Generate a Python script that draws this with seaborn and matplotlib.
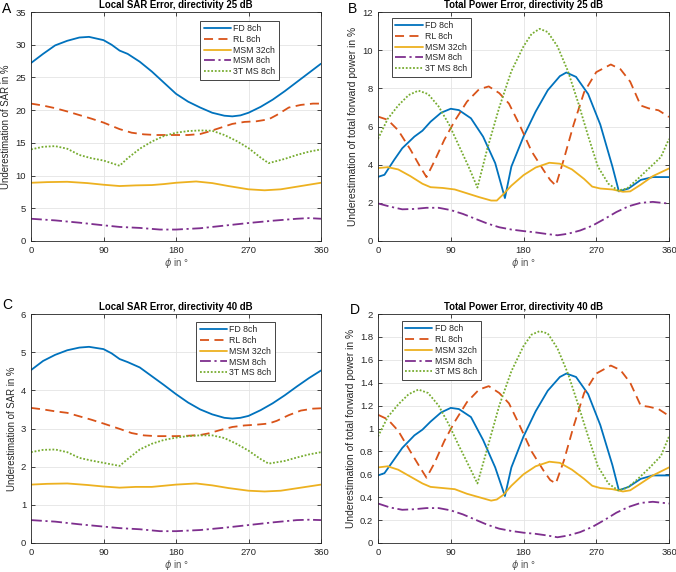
import matplotlib
matplotlib.use("Agg")
import matplotlib.pyplot as plt
import seaborn as sns
from matplotlib.ticker import FixedLocator, FormatStrFormatter

# ---------------- data ----------------
series_names = ["FD 8ch", "RL 8ch", "MSM 32ch", "MSM 8ch", "3T MS 8ch"]
x_ticks = [0, 90, 180, 270, 360]

# angles (deg) for local SAR panels (A, C)
sar_fd_x = [0, 15, 30, 45, 60, 72, 90, 100, 110, 120, 135, 150, 165, 180, 195, 210, 225, 240, 250, 260, 270, 285, 300, 315, 330, 345, 360]
sar_rl_x = [0, 15, 30, 45, 60, 75, 90, 110, 125, 140, 155, 170, 180, 195, 210, 220, 235, 250, 265, 280, 295, 305, 320, 335, 350, 360]
sar_m32_x = [0, 20, 45, 70, 90, 110, 130, 150, 165, 180, 205, 225, 245, 270, 290, 310, 335, 360]
sar_m8_x = [0, 30, 60, 90, 110, 135, 160, 180, 210, 240, 270, 300, 330, 345, 360]
sar_3t_x = [0, 15, 30, 45, 60, 75, 90, 110, 120, 135, 150, 165, 180, 195, 210, 225, 240, 255, 270, 285, 295, 315, 330, 345, 360]

# Panel A: local SAR, directivity 25 dB
a_fd = [27.2, 28.6, 29.9, 30.6, 31.1, 31.2, 30.7, 30.0, 29.1, 28.6, 27.4, 25.9, 24.2, 22.5, 21.3, 20.4, 19.6, 19.15, 19.05, 19.2, 19.6, 20.5, 21.6, 22.9, 24.3, 25.7, 27.1]
a_rl = [21.0, 20.7, 20.3, 19.8, 19.25, 18.7, 18.1, 17.1, 16.55, 16.3, 16.2, 16.2, 16.2, 16.2, 16.35, 16.7, 17.3, 17.9, 18.2, 18.3, 18.6, 19.25, 20.4, 20.8, 21.0, 21.0]
a_m32 = [8.9, 9.0, 9.05, 8.85, 8.6, 8.4, 8.5, 8.55, 8.7, 8.9, 9.1, 8.85, 8.4, 7.9, 7.75, 7.9, 8.4, 8.9]
a_m8 = [3.4, 3.15, 2.8, 2.4, 2.15, 2.0, 1.75, 1.75, 1.95, 2.35, 2.75, 3.1, 3.4, 3.5, 3.4]
a_3t = [14.0, 14.4, 14.5, 14.1, 13.15, 12.65, 12.3, 11.5, 12.65, 14.1, 15.2, 16.05, 16.55, 16.8, 16.9, 16.85, 16.2, 15.3, 14.2, 12.75, 11.9, 12.55, 13.15, 13.65, 14.0]

# Panel C: local SAR, directivity 40 dB
c_fd = [4.53, 4.77, 4.93, 5.05, 5.12, 5.14, 5.08, 4.97, 4.82, 4.74, 4.6, 4.37, 4.14, 3.9, 3.68, 3.5, 3.37, 3.28, 3.26, 3.28, 3.33, 3.48, 3.66, 3.87, 4.1, 4.32, 4.52]
c_rl = [3.54, 3.5, 3.45, 3.41, 3.32, 3.23, 3.13, 2.99, 2.88, 2.82, 2.8, 2.8, 2.8, 2.81, 2.83, 2.87, 2.96, 3.04, 3.08, 3.1, 3.13, 3.2, 3.35, 3.47, 3.52, 3.53]
c_m32 = [1.53, 1.55, 1.56, 1.52, 1.48, 1.45, 1.47, 1.47, 1.5, 1.53, 1.56, 1.51, 1.44, 1.37, 1.35, 1.37, 1.45, 1.53]
c_m8 = [0.6, 0.56, 0.49, 0.43, 0.39, 0.36, 0.31, 0.31, 0.34, 0.4, 0.47, 0.54, 0.6, 0.61, 0.6]
c_3t = [2.38, 2.44, 2.45, 2.38, 2.23, 2.16, 2.1, 2.02, 2.2, 2.45, 2.6, 2.7, 2.76, 2.8, 2.82, 2.82, 2.75, 2.6, 2.42, 2.2, 2.08, 2.15, 2.24, 2.32, 2.38]

# angles (deg) for total power panels (B, D)
pow_fd_x = [0, 8, 20, 30, 45, 55, 65, 78, 90, 100, 115, 130, 145, 157, 165, 180, 195, 210, 225, 233, 245, 260, 275, 290, 298, 310, 325, 340, 360]
pow_rl_x = [0, 12, 25, 40, 52, 60, 70, 82, 95, 110, 125, 137, 150, 162, 175, 190, 205, 213, 220, 230, 242, 255, 270, 288, 300, 312, 325, 335, 347, 360]
pow_m32_x = [0, 12, 25, 40, 55, 65, 80, 95, 110, 125, 140, 147, 155, 165, 180, 195, 212, 225, 240, 255, 265, 275, 290, 303, 312, 325, 340, 360]
pow_m8_x = [0, 15, 30, 45, 60, 75, 90, 105, 120, 135, 150, 165, 180, 195, 210, 222, 235, 250, 265, 280, 295, 310, 325, 340, 360]
pow_3t_x = [0, 12, 25, 38, 50, 62, 75, 88, 100, 112, 123, 135, 150, 165, 180, 190, 200, 210, 222, 235, 248, 260, 272, 285, 297, 308, 320, 335, 350, 360]

# Panel B: total power, directivity 25 dB
b_fd = [3.36, 3.47, 4.25, 4.86, 5.47, 5.78, 6.25, 6.72, 6.93, 6.86, 6.43, 5.47, 4.08, 2.25, 3.9, 5.47, 6.78, 7.9, 8.64, 8.83, 8.6, 7.7, 6.1, 3.9, 2.6, 2.75, 3.2, 3.35, 3.35]
b_rl = [6.52, 6.35, 5.8, 4.8, 3.9, 3.35, 4.2, 5.3, 6.3, 7.3, 7.95, 8.1, 7.75, 7.2, 6.1, 4.7, 3.7, 3.2, 2.9, 4.3, 6.1, 7.8, 8.85, 9.25, 9.0, 8.35, 7.1, 6.95, 6.85, 6.5]
b_m32 = [3.82, 3.87, 3.75, 3.4, 3.0, 2.82, 2.78, 2.7, 2.5, 2.3, 2.12, 2.12, 2.45, 2.9, 3.45, 3.85, 4.1, 4.05, 3.75, 3.25, 2.85, 2.75, 2.7, 2.58, 2.6, 2.95, 3.4, 3.8]
b_m8 = [1.97, 1.8, 1.66, 1.68, 1.74, 1.74, 1.62, 1.42, 1.17, 0.92, 0.72, 0.6, 0.52, 0.45, 0.36, 0.3, 0.38, 0.55, 0.8, 1.15, 1.52, 1.82, 2.0, 2.05, 1.96]
b_3t = [5.35, 6.4, 7.1, 7.65, 7.88, 7.7, 7.05, 6.1, 5.0, 3.9, 2.8, 4.8, 7.0, 8.9, 10.2, 10.85, 11.12, 10.95, 10.2, 8.9, 7.2, 5.5, 3.9, 3.0, 2.65, 2.75, 3.2, 3.8, 4.4, 5.35]

# Panel D: total power, directivity 40 dB
d_fd = [0.59, 0.61, 0.73, 0.83, 0.94, 0.99, 1.06, 1.14, 1.18, 1.17, 1.1, 0.9, 0.66, 0.41, 0.66, 0.93, 1.15, 1.33, 1.45, 1.48, 1.45, 1.3, 1.03, 0.68, 0.46, 0.49, 0.56, 0.59, 0.59]
d_rl = [1.12, 1.08, 0.98, 0.8, 0.66, 0.57, 0.7, 0.89, 1.06, 1.23, 1.34, 1.37, 1.31, 1.22, 1.03, 0.8, 0.63, 0.55, 0.52, 0.72, 1.02, 1.31, 1.48, 1.55, 1.51, 1.4, 1.2, 1.19, 1.17, 1.11]
d_m32 = [0.66, 0.67, 0.64, 0.58, 0.52, 0.49, 0.48, 0.47, 0.43, 0.4, 0.37, 0.38, 0.42, 0.5, 0.6, 0.67, 0.71, 0.7, 0.64, 0.56, 0.5, 0.48, 0.47, 0.45, 0.46, 0.52, 0.59, 0.66]
d_m8 = [0.345, 0.31, 0.29, 0.295, 0.305, 0.305, 0.285, 0.25, 0.205, 0.16, 0.125, 0.105, 0.09, 0.08, 0.065, 0.05, 0.065, 0.095, 0.14, 0.2, 0.265, 0.315, 0.35, 0.36, 0.345]
d_3t = [0.93, 1.1, 1.21, 1.3, 1.34, 1.31, 1.2, 1.03, 0.85, 0.68, 0.52, 0.82, 1.2, 1.5, 1.72, 1.82, 1.85, 1.83, 1.7, 1.48, 1.2, 0.93, 0.67, 0.52, 0.46, 0.48, 0.55, 0.65, 0.76, 0.93]

titles = ["Local SAR Error, directivity 25 dB", "Total Power Error, directivity 25 dB",
          "Local SAR Error, directivity 40 dB", "Total Power Error, directivity 40 dB"]
ylabels = ["Underestimation of SAR in %", "Underestimation of total forward power in %",
           "Underestimation of SAR in %", "Underestimation of total forward power in %"]
panel_letters = ["A", "B", "C", "D"]
yticks_list = [[0, 5, 10, 15, 20, 25, 30, 35],
               [0, 2, 4, 6, 8, 10, 12],
               [0, 1, 2, 3, 4, 5, 6],
               [0, 0.2, 0.4, 0.6, 0.8, 1, 1.2, 1.4, 1.6, 1.8, 2]]

# ---------------- style ----------------
sns.set_theme(style="whitegrid")
plt.rcParams["font.family"] = ["Liberation Sans", "DejaVu Sans"]
plt.rcParams["mathtext.fontset"] = "dejavusans"

colors = ["#0072BD", "#D95319", "#EDB120", "#7E2F8E", "#77AC30"]
styles = ["-", (0, (5, 3)), "-", (0, (6, 2, 1.2, 2)), (0, (1, 1))]
dark = "#262626"

fig = plt.figure(figsize=(6.76, 5.72), dpi=100)
W, H = 676.0, 572.0
boxes = [(31, 12, 321, 241), (378, 12, 669, 241), (31, 314, 321, 543), (378, 314, 669, 543)]
axes = [fig.add_axes([l / W, 1 - b / H, (r - l) / W, (b - t) / H]) for (l, t, r, b) in boxes]

panels = [
    [(sar_fd_x, a_fd), (sar_rl_x, a_rl), (sar_m32_x, a_m32), (sar_m8_x, a_m8), (sar_3t_x, a_3t)],
    [(pow_fd_x, b_fd), (pow_rl_x, b_rl), (pow_m32_x, b_m32), (pow_m8_x, b_m8), (pow_3t_x, b_3t)],
    [(sar_fd_x, c_fd), (sar_rl_x, c_rl), (sar_m32_x, c_m32), (sar_m8_x, c_m8), (sar_3t_x, c_3t)],
    [(pow_fd_x, d_fd), (pow_rl_x, d_rl), (pow_m32_x, d_m32), (pow_m8_x, d_m8), (pow_3t_x, d_3t)],
]
legend_anchor = [(0.583, 0.962), (0.048, 0.975), (0.569, 0.966), (0.082, 0.97)]
letter_pos = [(2, 13), (348, 13), (2, 309), (350, 314)]
ylabel_sizes = [6.9, 7.4, 6.9, 7.4]

for i, ax in enumerate(axes):
    for j, (xs, ys) in enumerate(panels[i]):
        sns.lineplot(x=xs, y=ys, ax=ax, color=colors[j], linestyle=styles[j],
                     linewidth=1.3, label=series_names[j])
    yt = yticks_list[i]
    ax.set_xlim(0, 360)
    ax.set_ylim(yt[0], yt[-1])
    ax.xaxis.set_major_locator(FixedLocator(x_ticks))
    ax.yaxis.set_major_locator(FixedLocator(yt))
    ax.yaxis.set_major_formatter(FormatStrFormatter("%g"))
    ax.tick_params(direction="in", length=3, width=0.6, colors=dark, labelsize=6.8,
                   pad=3.5, top=True, right=True, left=True, bottom=True, labelcolor=dark)
    ax.grid(True, color="#e4e4e4", linewidth=0.6)
    for sp in ax.spines.values():
        sp.set_color(dark)
        sp.set_linewidth(0.6)
    ax.set_facecolor("white")
    ax.set_title(titles[i], fontsize=6.9, fontweight="bold", color="black", pad=3)
    ax.set_ylabel(ylabels[i], fontsize=ylabel_sizes[i], color=dark, labelpad=3)
    ax.set_xlabel(r"$\phi$ in °", fontsize=7.0, color="#555555", labelpad=0.5)
    leg = ax.legend(loc="upper left", bbox_to_anchor=legend_anchor[i], fontsize=6.3,
                    frameon=True, fancybox=False, framealpha=1, edgecolor=dark,
                    handlelength=3.1, handletextpad=0.3, labelspacing=0.2,
                    borderpad=0.4, borderaxespad=0)
    leg.get_frame().set_linewidth(0.6)
    for t in leg.get_texts():
        t.set_color(dark)
    lx, ly = letter_pos[i]
    fig.text(lx / W, 1 - ly / H, panel_letters[i], fontsize=10, color="black",
             ha="left", va="baseline")

fig.savefig("out.png", dpi=100, facecolor="white")
